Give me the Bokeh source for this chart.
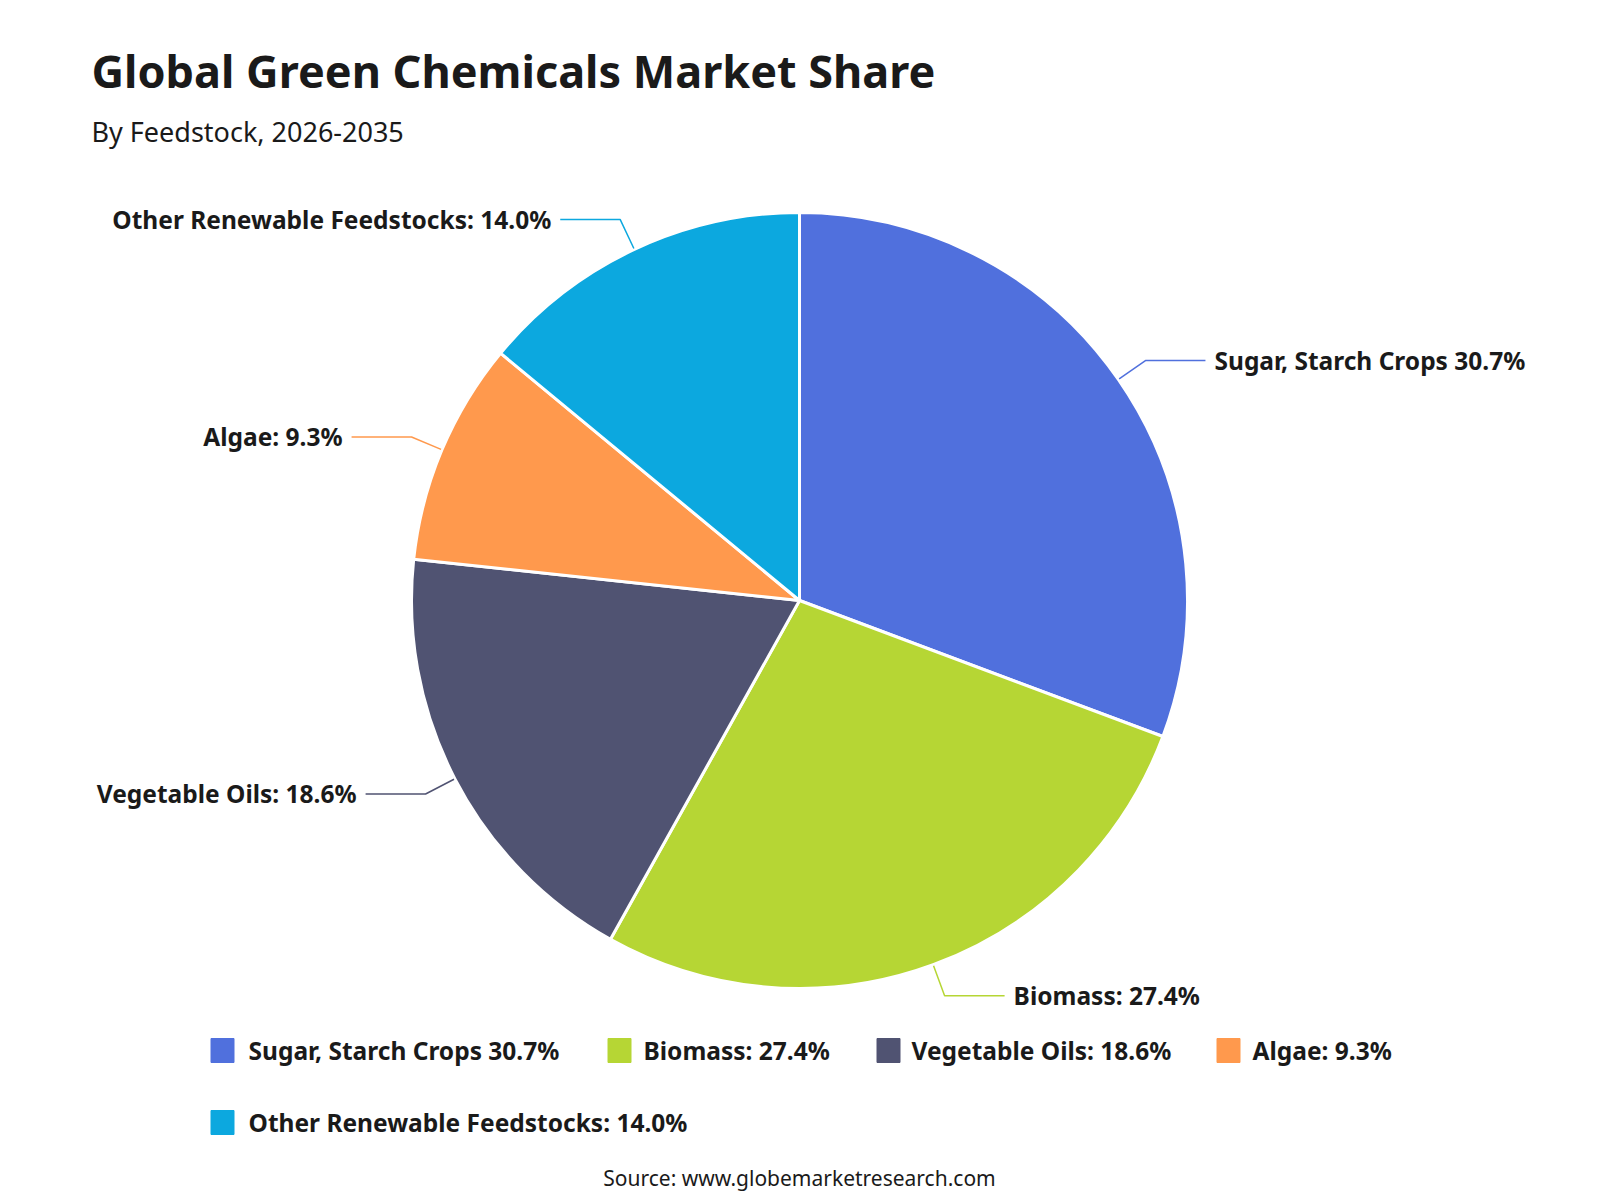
import numpy as np
from bokeh.plotting import figure
from bokeh.models import Range1d, ColumnDataSource
from bokeh.core.properties import value
from bokeh.embed import file_html
from bokeh.resources import INLINE

# ---- data ----
categories = ["Sugar, Starch Crops", "Biomass", "Vegetable Oils", "Algae", "Other Renewable Feedstocks"]
shares = [30.7, 27.4, 18.6, 9.3, 14.0]
label_texts = ["Sugar, Starch Crops 30.7%", "Biomass: 27.4%", "Vegetable Oils: 18.6%",
               "Algae: 9.3%", "Other Renewable Feedstocks: 14.0%"]
colors = ["#5070dd", "#b6d634", "#505372", "#ff994d", "#0ca8df"]

title_text = "Global Green Chemicals Market Share"
subtitle_text = "By Feedstock, 2026-2035"
source_text = "Source: www.globemarketresearch.com"

# ---- layout ----
W, H = 1600, 1200
FONT = "Noto Sans"
CX, CY_SCREEN, R = 799, 600, 388
CY = H - CY_SCREEN
ELBOW = 33
HLEN = 60
TEXT_GAP = 9
DARK = "#1a1a1a"
LABEL_SIZE = "24.5px"

p = figure(width=W, height=H, x_range=Range1d(0, W), y_range=Range1d(0, H),
           output_backend="svg", toolbar_location=None, min_border=0,
           x_axis_type=None, y_axis_type=None)
p.grid.visible = False
p.outline_line_color = None
p.background_fill_color = "white"
p.border_fill_color = "white"

frac = np.array(shares) / np.sum(shares)
cum = np.cumsum(frac)
start = np.pi / 2 - 2 * np.pi * (cum - frac)
end = np.pi / 2 - 2 * np.pi * cum
mid = (start + end) / 2

src = ColumnDataSource(dict(cat=categories, start=start, end=end, color=colors))
p.wedge(x=CX, y=CY, radius=R, start_angle="start", end_angle="end", direction="clock",
        fill_color="color", line_color="white", line_width=3, source=src)

# leader lines + labels
xs, ys = [], []
lx, ly, align = [], [], []
for a in mid:
    x0, y0 = CX + (R + 1) * np.cos(a), CY + (R + 1) * np.sin(a)
    x1, y1 = CX + (R + ELBOW) * np.cos(a), CY + (R + ELBOW) * np.sin(a)
    s = 1 if np.cos(a) >= 0 else -1
    x2 = x1 + s * HLEN
    xs.append([x0, x1, x2]); ys.append([y0, y1, y1])
    lx.append(x2 + s * TEXT_GAP); ly.append(y1)
    align.append("left" if s > 0 else "right")

p.multi_line(xs=xs, ys=ys, line_color=colors, line_width=1.5)
lab = ColumnDataSource(dict(x=lx, y=ly, t=label_texts, align=align))
p.text(x="x", y="y", text="t", text_align="align", text_baseline="middle",
       text_font=value(FONT), text_font_style="bold", text_font_size=LABEL_SIZE,
       text_color=DARK, source=lab)

# title / subtitle
p.text(x=[91], y=[H - 70], text=[title_text], text_font=value(FONT), text_font_style="bold",
       text_font_size="45px", text_color=DARK, text_baseline="middle")
p.text(x=[91], y=[H - 131], text=[subtitle_text], text_font=value(FONT),
       text_font_size="27px", text_color=DARK, text_baseline="middle")

# legend (custom, two rows)
leg_sq_x = [222, 619, 888, 1228, 222]
leg_txt_x = [248, 643, 911, 1252, 248]
leg_y = [H - 1050, H - 1050, H - 1050, H - 1050, H - 1122]
legsrc = ColumnDataSource(dict(sx=leg_sq_x, tx=leg_txt_x, y=leg_y, t=label_texts, color=colors))
p.rect(x="sx", y="y", width=23, height=24, fill_color="color", line_color="color",
       line_width=1, source=legsrc)
p.text(x="tx", y="y", text="t", text_baseline="middle", text_font=value(FONT),
       text_font_style="bold", text_font_size=LABEL_SIZE, text_color=DARK, source=legsrc)

# source
p.text(x=[CX], y=[H - 1177], text=[source_text], text_align="center", text_baseline="middle",
       text_font=value(FONT), text_font_size="21px", text_color=DARK)

open("out.html", "w").write(file_html(p, INLINE))
